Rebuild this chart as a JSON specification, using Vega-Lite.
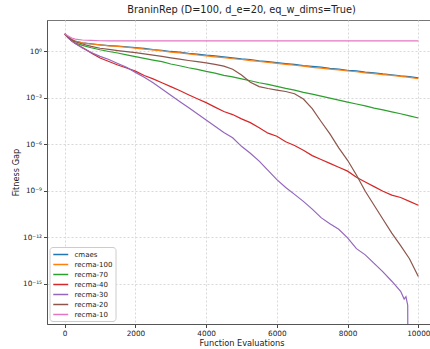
{
  "$schema": "https://vega.github.io/schema/vega-lite/v6.json",
  "width": 389,
  "height": 304,
  "autosize": {"type": "none"},
  "padding": {"left": 47, "top": 20, "right": 0, "bottom": 25},
  "background": "white",
  "title": {"text": "BraninRep (D=100, d_e=20, eq_w_dims=True)", "font": "DejaVu Sans", "fontSize": 9.8, "fontWeight": "normal", "color": "#222", "anchor": "middle", "offset": 5},
  "config": {
    "view": {"stroke": "#777", "strokeWidth": 1},
    "axis": {"labelFont": "DejaVu Sans", "titleFont": "DejaVu Sans", "labelFontSize": 7.3, "titleFontSize": 8.2, "titleFontWeight": "normal", "labelColor": "#222", "titleColor": "#222", "tickColor": "#444", "domainColor": "#555", "gridColor": "#d8d8d8", "gridDash": [2, 2], "tickSize": 3.5, "labelPadding": 2}
  },
  "data": {"values": [
    {"evals": 0, "cmaes": 12.6, "recma-100": 12.6, "recma-70": 12.6, "recma-40": 12.6, "recma-30": 12.6, "recma-20": 12.6, "recma-10": 12.6},
    {"evals": 100, "cmaes": 7.59, "recma-100": 7.24, "recma-70": 7.59, "recma-40": 7.08, "recma-30": 7.08, "recma-20": 7.59, "recma-10": 9.33},
    {"evals": 200, "cmaes": 5.5, "recma-100": 5.25, "recma-70": 4.79, "recma-40": 4.47, "recma-30": 4.47, "recma-20": 5.25, "recma-10": 6.92},
    {"evals": 300, "cmaes": 4.37, "recma-100": 4.27, "recma-70": 3.31, "recma-40": 3.02, "recma-30": 3.02, "recma-20": 3.98, "recma-10": 5.89},
    {"evals": 500, "cmaes": 3.39, "recma-100": 3.31, "recma-70": 2.29, "recma-40": 1.66, "recma-30": 1.58, "recma-20": 2.82, "recma-10": 5.13},
    {"evals": 750, "cmaes": 2.88, "recma-100": 2.82, "recma-70": 1.62, "recma-40": 0.759, "recma-30": 0.794, "recma-20": 2.0, "recma-10": 4.79},
    {"evals": 1000, "cmaes": 2.51, "recma-100": 2.45, "recma-70": 1.2, "recma-40": 0.355, "recma-30": 0.447, "recma-20": 1.51, "recma-10": 4.57},
    {"evals": 1250, "cmaes": 2.24, "recma-100": 2.14, "recma-70": 0.933, "recma-40": 0.209, "recma-30": 0.282, "recma-20": 1.26, "recma-10": 4.5},
    {"evals": 1500, "cmaes": 2.04, "recma-100": 2.0, "recma-70": 0.741, "recma-40": 0.126, "recma-30": 0.158, "recma-20": 1.07, "recma-10": 4.47},
    {"evals": 1750, "cmaes": 1.82, "recma-100": 1.74, "recma-70": 0.562, "recma-40": 7.94e-2, "recma-30": 8.91e-2, "recma-20": 0.912, "recma-10": 4.47},
    {"evals": 2000, "cmaes": 1.66, "recma-100": 1.55, "recma-70": 0.437, "recma-40": 5.01e-2, "recma-30": 4.17e-2, "recma-20": 0.776, "recma-10": 4.47},
    {"evals": 2250, "cmaes": 1.48, "recma-100": 1.32, "recma-70": 0.331, "recma-40": 2.63e-2, "recma-30": 2.0e-2, "recma-20": 0.646, "recma-10": 4.47},
    {"evals": 2500, "cmaes": 1.23, "recma-100": 1.17, "recma-70": 0.257, "recma-40": 1.58e-2, "recma-30": 8.91e-3, "recma-20": 0.537, "recma-10": 4.47},
    {"evals": 2750, "cmaes": 1.12, "recma-100": 1.0, "recma-70": 0.204, "recma-40": 8.91e-3, "recma-30": 3.55e-3, "recma-20": 0.447, "recma-10": 4.47},
    {"evals": 3000, "cmaes": 0.933, "recma-100": 0.851, "recma-70": 0.145, "recma-40": 5.01e-3, "recma-30": 1.41e-3, "recma-20": 0.363, "recma-10": 4.47},
    {"evals": 3250, "cmaes": 0.851, "recma-100": 0.759, "recma-70": 0.112, "recma-40": 2.82e-3, "recma-30": 5.62e-4, "recma-20": 0.302, "recma-10": 4.47},
    {"evals": 3500, "cmaes": 0.708, "recma-100": 0.646, "recma-70": 8.32e-2, "recma-40": 1.51e-3, "recma-30": 2.24e-4, "recma-20": 0.245, "recma-10": 4.47},
    {"evals": 3750, "cmaes": 0.631, "recma-100": 0.55, "recma-70": 6.46e-2, "recma-40": 8.32e-4, "recma-30": 8.91e-5, "recma-20": 0.204, "recma-10": 4.47},
    {"evals": 4000, "cmaes": 0.537, "recma-100": 0.49, "recma-70": 4.79e-2, "recma-40": 4.68e-4, "recma-30": 3.55e-5, "recma-20": 0.17, "recma-10": 4.47},
    {"evals": 4250, "cmaes": 0.479, "recma-100": 0.417, "recma-70": 3.72e-2, "recma-40": 2.4e-4, "recma-30": 1.41e-5, "recma-20": 0.138, "recma-10": 4.47},
    {"evals": 4500, "cmaes": 0.417, "recma-100": 0.372, "recma-70": 2.69e-2, "recma-40": 1.26e-4, "recma-30": 5.62e-6, "recma-20": 0.105, "recma-10": 4.47},
    {"evals": 4750, "cmaes": 0.363, "recma-100": 0.316, "recma-70": 2.14e-2, "recma-40": 7.94e-5, "recma-30": 2.51e-6, "recma-20": 6.61e-2, "recma-10": 4.47},
    {"evals": 5000, "cmaes": 0.309, "recma-100": 0.282, "recma-70": 1.58e-2, "recma-40": 4.17e-5, "recma-30": 7.08e-7, "recma-20": 2.82e-2, "recma-10": 4.47},
    {"evals": 5250, "cmaes": 0.282, "recma-100": 0.24, "recma-70": 1.2e-2, "recma-40": 2.4e-5, "recma-30": 2.51e-7, "recma-20": 9.55e-3, "recma-10": 4.47},
    {"evals": 5500, "cmaes": 0.234, "recma-100": 0.214, "recma-70": 8.91e-3, "recma-40": 1.12e-5, "recma-30": 7.94e-8, "recma-20": 5.01e-3, "recma-10": 4.47},
    {"evals": 5750, "cmaes": 0.209, "recma-100": 0.182, "recma-70": 7.08e-3, "recma-40": 5.01e-6, "recma-30": 2.0e-8, "recma-20": 3.8e-3, "recma-10": 4.47},
    {"evals": 6000, "cmaes": 0.178, "recma-100": 0.158, "recma-70": 5.25e-3, "recma-40": 3.16e-6, "recma-30": 5.01e-9, "recma-20": 3.02e-3, "recma-10": 4.47},
    {"evals": 6250, "cmaes": 0.155, "recma-100": 0.138, "recma-70": 3.89e-3, "recma-40": 1.41e-6, "recma-30": 1.58e-9, "recma-20": 2.45e-3, "recma-10": 4.47},
    {"evals": 6500, "cmaes": 0.138, "recma-100": 0.12, "recma-70": 3.02e-3, "recma-40": 7.94e-7, "recma-30": 5.62e-10, "recma-20": 1.74e-3, "recma-10": 4.47},
    {"evals": 6750, "cmaes": 0.115, "recma-100": 0.105, "recma-70": 2.14e-3, "recma-40": 3.98e-7, "recma-30": 2.0e-10, "recma-20": 7.94e-4, "recma-10": 4.47},
    {"evals": 7000, "cmaes": 0.102, "recma-100": 8.91e-2, "recma-70": 1.66e-3, "recma-40": 1.78e-7, "recma-30": 6.31e-11, "recma-20": 1.91e-4, "recma-10": 4.47},
    {"evals": 7250, "cmaes": 9.12e-2, "recma-100": 7.94e-2, "recma-70": 1.23e-3, "recma-40": 1.0e-7, "recma-30": 1.78e-11, "recma-20": 2.82e-5, "recma-10": 4.47},
    {"evals": 7500, "cmaes": 7.59e-2, "recma-100": 6.76e-2, "recma-70": 9.12e-4, "recma-40": 5.62e-8, "recma-30": 7.08e-12, "recma-20": 4.47e-6, "recma-10": 4.47},
    {"evals": 7750, "cmaes": 6.76e-2, "recma-100": 6.03e-2, "recma-70": 6.76e-4, "recma-40": 3.16e-8, "recma-30": 3.16e-12, "recma-20": 5.62e-7, "recma-10": 4.47},
    {"evals": 8000, "cmaes": 5.75e-2, "recma-100": 5.13e-2, "recma-70": 5.01e-4, "recma-40": 1.78e-8, "recma-30": 8.91e-13, "recma-20": 8.91e-8, "recma-10": 4.47},
    {"evals": 8250, "cmaes": 5.25e-2, "recma-100": 4.57e-2, "recma-70": 3.8e-4, "recma-40": 7.08e-9, "recma-30": 1.78e-13, "recma-20": 1.0e-8, "recma-10": 4.47},
    {"evals": 8500, "cmaes": 4.37e-2, "recma-100": 3.89e-2, "recma-70": 2.88e-4, "recma-40": 3.55e-9, "recma-30": 7.08e-14, "recma-20": 8.91e-10, "recma-10": 4.47},
    {"evals": 8750, "cmaes": 3.89e-2, "recma-100": 3.47e-2, "recma-70": 2.09e-4, "recma-40": 1.78e-9, "recma-30": 2.0e-14, "recma-20": 1.12e-10, "recma-10": 4.47},
    {"evals": 9000, "cmaes": 3.31e-2, "recma-100": 3.02e-2, "recma-70": 1.58e-4, "recma-40": 8.91e-10, "recma-30": 5.62e-15, "recma-20": 1.41e-11, "recma-10": 4.47},
    {"evals": 9250, "cmaes": 2.95e-2, "recma-100": 2.69e-2, "recma-70": 1.17e-4, "recma-40": 5.01e-10, "recma-30": 1.41e-15, "recma-20": 1.78e-12, "recma-10": 4.47},
    {"evals": 9500, "cmaes": 2.51e-2, "recma-100": 2.29e-2, "recma-70": 8.91e-5, "recma-40": 3.55e-10, "recma-30": 3.16e-16, "recma-20": 2.82e-13, "recma-10": 4.47},
    {"evals": 9600, "recma-30": 1.0e-16},
    {"evals": 9650, "recma-30": 1.41e-16},
    {"evals": 9700, "recma-30": 3.98e-17},
    {"evals": 9720, "recma-30": 1e-30},
    {"evals": 9750, "cmaes": 2.24e-2, "recma-100": 2.0e-2, "recma-70": 6.46e-5, "recma-40": 2.0e-10, "recma-20": 3.98e-14, "recma-10": 4.47},
    {"evals": 10000, "cmaes": 1.86e-2, "recma-100": 1.62e-2, "recma-70": 4.79e-5, "recma-40": 1.12e-10, "recma-20": 2.82e-15, "recma-10": 4.47}
  ]},
  "transform": [
    {"fold": ["cmaes", "recma-100", "recma-70", "recma-40", "recma-30", "recma-20", "recma-10"], "as": ["method", "gap"]},
    {"filter": "isValid(datum.gap)"}
  ],
  "mark": {"type": "line", "clip": true, "strokeWidth": 1.2},
  "encoding": {
    "x": {"field": "evals", "type": "quantitative", "scale": {"domain": [-500, 10500], "nice": false, "zero": false}, "axis": {"values": [0, 2000, 4000, 6000, 8000, 10000], "format": "d", "title": "Function Evaluations", "titlePadding": 3}},
    "y": {"field": "gap", "type": "quantitative", "scale": {"type": "log", "domain": [2.45e-18, 100], "nice": false}, "axis": {"values": [1, 1e-3, 1e-6, 1e-9, 1e-12, 1e-15], "labelExpr": "datum.value > 0.5 ? '10⁰' : datum.value > 0.0005 ? '10⁻³' : datum.value > 5e-7 ? '10⁻⁶' : datum.value > 5e-10 ? '10⁻⁹' : datum.value > 5e-13 ? '10⁻¹²' : '10⁻¹⁵'", "title": "Fitness Gap", "titlePadding": 2}},
    "color": {"field": "method", "type": "nominal", "scale": {"domain": ["cmaes", "recma-100", "recma-70", "recma-40", "recma-30", "recma-20", "recma-10"], "range": ["#1f77b4", "#ff7f0e", "#2ca02c", "#d62728", "#9467bd", "#8c564b", "#e377c2"]}, "legend": {"orient": "none", "legendX": 2.5, "legendY": 227, "title": null, "symbolType": "M-1,0H3", "symbolStrokeWidth": 1.5, "symbolSize": 56, "labelFont": "DejaVu Sans", "labelFontSize": 7, "labelColor": "#222", "rowPadding": 2, "fillColor": "white", "strokeColor": "#ccc", "padding": 3, "cornerRadius": 3, "labelOffset": 13}}
  }
}
